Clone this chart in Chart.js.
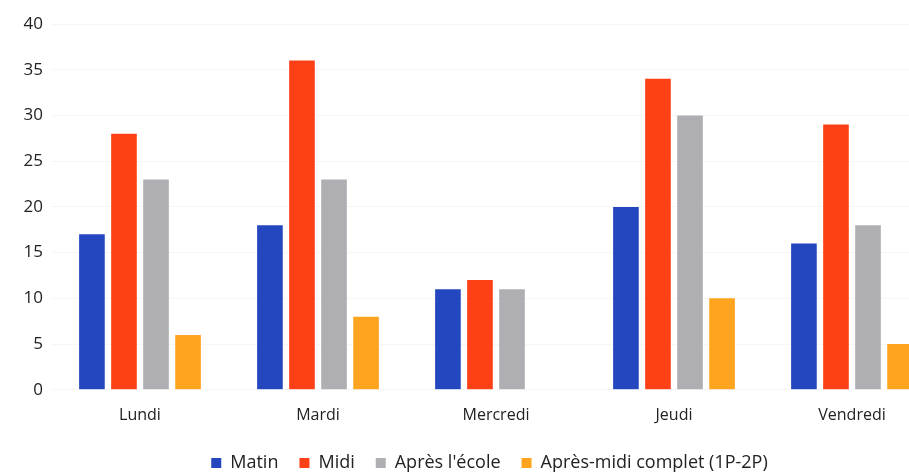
<!DOCTYPE html>
<html>
<head>
<meta charset="utf-8">
<script src="https://cdn.jsdelivr.net/npm/chart.js@4.4.0/dist/chart.umd.min.js"></script>
<style>
  html, body { margin: 0; padding: 0; background: #fff; overflow: hidden; }
  #wrap { width: 980px; height: 482px; }
</style>
</head>
<body>
<div id="wrap"><canvas id="chart"></canvas></div>
<script>
// Données du graphique
var jours = ['Lundi', 'Mardi', 'Mercredi', 'Jeudi', 'Vendredi'];
var matin = [17, 18, 11, 20, 16];
var midi = [28, 36, 12, 34, 29];
var apresEcole = [23, 23, 11, 30, 18];
var apresMidiComplet = [6, 8, null, 10, 5];
var graduations = [0, 5, 10, 15, 20, 25, 30, 35, 40];

var police = "'Open Sans', 'Liberation Sans', sans-serif";

// recentre la légende sous la zone des barres
var decalageLegende = {
    id: 'decalageLegende',
    afterLayout: function(chart) {
        if (chart.legend) {
            chart.legend.left += 38;
        }
    }
};

var ctx = document.getElementById('chart').getContext('2d');
var chart = new Chart(ctx, {
    type: 'bar',
    data: {
        labels: jours,
        datasets: [
            { label: 'Matin', data: matin, backgroundColor: '#2447c0' },
            { label: 'Midi', data: midi, backgroundColor: '#fd4015' },
            { label: "Après l'école", data: apresEcole, backgroundColor: '#afafb3' },
            { label: 'Après-midi complet (1P-2P)', data: apresMidiComplet, backgroundColor: '#ffa41e' }
        ]
    },
    plugins: [decalageLegende],
    options: {
        responsive: true,
        maintainAspectRatio: false,
        animation: false,
        layout: { padding: { top: 24, right: 39, left: 0, bottom: 0 } },
        datasets: { bar: { categoryPercentage: 0.72, barPercentage: 0.8 } },
        scales: {
            x: {
                grid: { display: false },
                border: { display: false },
                ticks: { color: '#222', font: { family: police, size: 16 }, padding: 8 }
            },
            y: {
                min: 0,
                max: 40,
                afterBuildTicks: function(scale) {
                    scale.ticks = graduations.map(function(v) { return { value: v }; });
                },
                afterFit: function(scale) { scale.width = 51; },
                grid: { color: '#f6f6f6', drawTicks: false },
                border: { display: false },
                ticks: { color: '#222', font: { family: police, size: 17 }, padding: 8 }
            }
        },
        plugins: {
            legend: {
                position: 'bottom',
                labels: {
                    color: '#222',
                    font: { family: police, size: 18 },
                    boxWidth: 10,
                    boxHeight: 10,
                    padding: 21
                }
            },
            tooltip: { enabled: false }
        }
    }
});
</script>
</body>
</html>
